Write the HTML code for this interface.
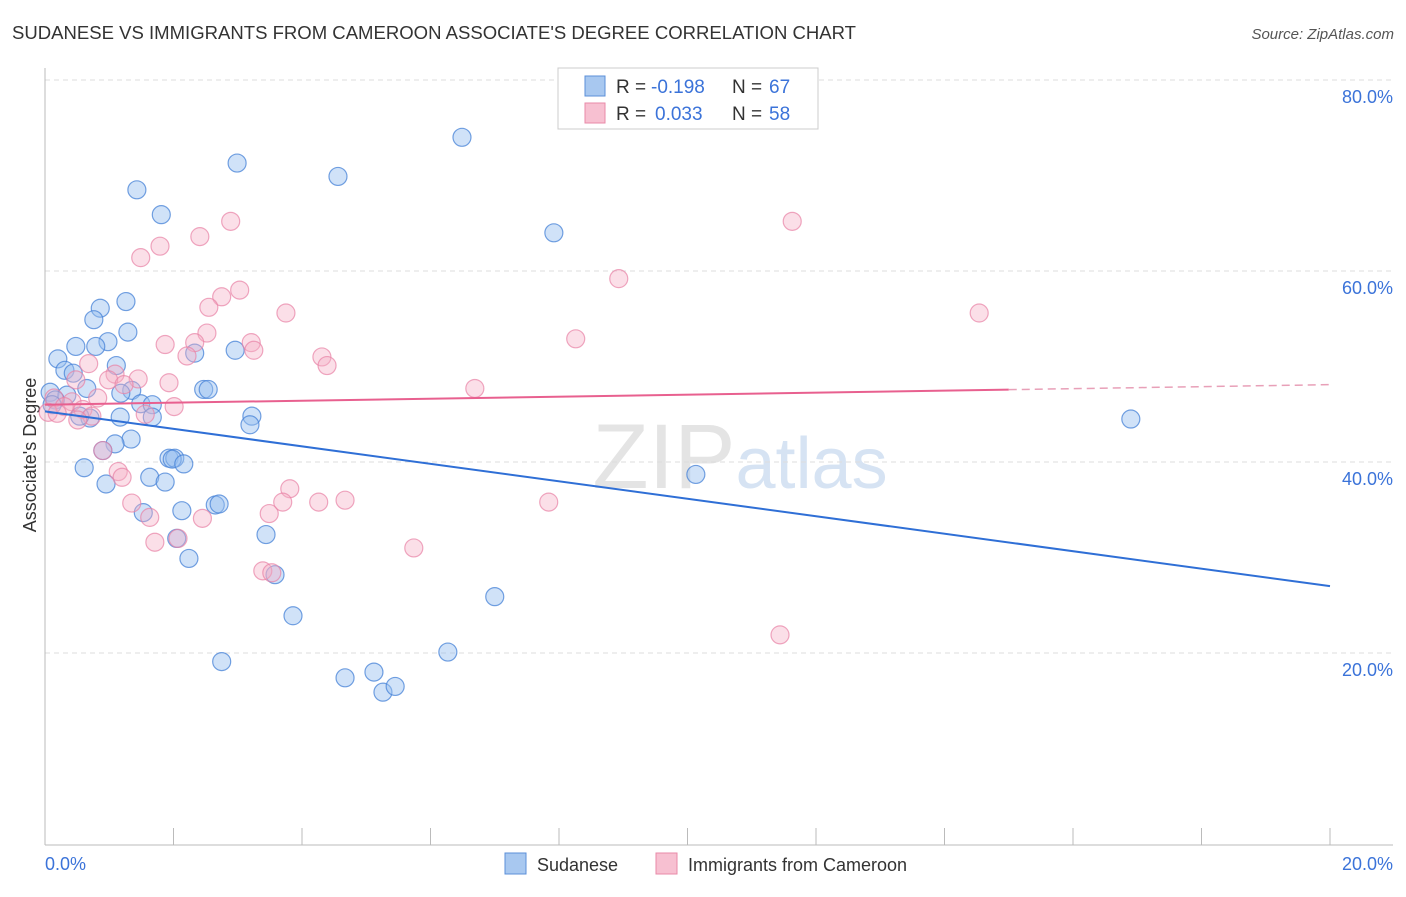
<!DOCTYPE html>
<html><head><meta charset="utf-8"><style>
body{margin:0;background:#fff;font-family:"Liberation Sans",sans-serif}
svg text{font-family:"Liberation Sans",sans-serif}
</style></head><body>
<svg width="1406" height="892">
<text x="12" y="39" font-size="18" fill="#333" textLength="844" lengthAdjust="spacingAndGlyphs">SUDANESE VS IMMIGRANTS FROM CAMEROON ASSOCIATE'S DEGREE CORRELATION CHART</text>
<text x="1394" y="39" font-size="15" fill="#555" font-style="italic" text-anchor="end">Source: ZipAtlas.com</text>
<text x="740" y="488" font-size="92" fill="#e4e4e4" text-anchor="middle" font-family="Liberation Serif">ZIP<tspan fill="#d6e3f3" font-family="Liberation Sans" font-size="72">atlas</tspan></text>
<g id="grid"></g>
<line x1="45" y1="68" x2="45" y2="845" stroke="#bbb"/>
<line x1="45" y1="845" x2="1393" y2="845" stroke="#bbb"/>
<g id="xticks"></g>
<text x="36" y="455" font-size="18" fill="#333" text-anchor="middle" transform="rotate(-90 36 455)">Associate's Degree</text>
<text x="45" y="870" font-size="18" fill="#3b73d9">0.0%</text>
<text x="1393" y="870" font-size="18" fill="#3b73d9" text-anchor="end">20.0%</text>
<g id="pts"></g>
<g id="trends"></g>
<g>
<rect x="558" y="68" width="260" height="61" fill="#fff" stroke="#ccc"/>
<rect x="585" y="76" width="20" height="20" fill="#a8c8f0" stroke="#5b8fd8"/>
<rect x="585" y="103" width="20" height="20" fill="#f7c0d1" stroke="#e88aa8"/>
<text x="616" y="93" font-size="19" fill="#333">R =</text>
<text x="651" y="93" font-size="19" fill="#3b73d9">-0.198</text>
<text x="732" y="93" font-size="19" fill="#333">N =</text>
<text x="769" y="93" font-size="19" fill="#3b73d9">67</text>
<text x="616" y="120" font-size="19" fill="#333">R =</text>
<text x="655" y="120" font-size="19" fill="#3b73d9">0.033</text>
<text x="732" y="120" font-size="19" fill="#333">N =</text>
<text x="769" y="120" font-size="19" fill="#3b73d9">58</text>
</g>
<g>
<rect x="505" y="853" width="21" height="21" fill="#a8c8f0" stroke="#5b8fd8"/>
<text x="537" y="871" font-size="18" fill="#333">Sudanese</text>
<rect x="656" y="853" width="21" height="21" fill="#f7c0d1" stroke="#e88aa8"/>
<text x="688" y="871" font-size="18" fill="#333">Immigrants from Cameroon</text>
</g>
</svg>
<script>
const yTicks=[20,40,60,80];
const yTickLabels=["20.0%","40.0%","60.0%","80.0%"];
const xTicks=[0,2,4,6,8,10,12,14,16,18,20];
const blueX=[1.43,1.81,2.99,4.56,6.49,7.92,0.86,1.26,0.76,1.29,0.98,0.79,0.48,0.20,1.11,0.31,0.44,2.33,2.96,2.47,2.54,0.65,1.35,1.18,0.08,0.34,0.16,0.11,1.49,1.67,1.17,0.70,0.54,1.67,3.22,3.19,1.34,1.09,0.90,1.93,2.02,1.98,2.16,0.61,1.63,1.87,0.95,2.13,1.53,2.65,2.71,2.05,3.44,2.24,3.58,3.86,2.75,4.67,5.12,5.26,5.45,6.27,7.00,10.13,16.90];
const blueY=[68.5,65.9,71.3,69.9,74.0,64.0,56.1,56.8,54.9,53.6,52.6,52.1,52.1,50.8,50.1,49.6,49.3,51.4,51.7,47.6,47.6,47.7,47.5,47.2,47.3,47.0,46.5,46.0,46.1,46.0,44.7,44.6,44.8,44.7,44.8,43.9,42.4,41.9,41.2,40.4,40.4,40.3,39.8,39.4,38.4,37.9,37.7,34.9,34.7,35.5,35.6,32.0,32.4,29.9,28.2,23.9,19.1,17.4,18.0,15.9,16.5,20.1,25.9,38.7,44.5];
const pinkX=[2.89,11.63,2.41,1.79,1.49,8.93,3.03,2.75,2.55,3.75,14.54,2.52,8.26,1.87,2.33,3.21,3.25,2.21,4.31,4.39,0.68,1.09,0.99,1.45,1.23,1.93,0.48,6.69,0.14,0.82,0.42,0.30,2.01,0.05,0.19,0.59,0.73,0.51,1.56,1.14,1.20,1.35,1.63,1.71,2.07,2.45,3.49,3.81,3.70,4.26,4.67,7.84,5.74,3.39,3.53,11.44,0.90];
const pinkY=[65.2,65.2,63.6,62.6,61.4,59.2,58.0,57.3,56.2,55.6,55.6,53.5,52.9,52.3,52.5,52.5,51.7,51.1,51.0,50.1,50.3,49.2,48.6,48.7,48.1,48.3,48.6,47.7,46.7,46.7,46.3,45.8,45.8,45.2,45.1,45.5,44.8,44.4,45.0,39.0,38.4,35.7,34.2,31.6,32.0,34.1,34.6,37.2,35.8,35.8,36.0,35.8,31.0,28.6,28.4,21.9,41.2];
const blueTrend=[45.3,27.0];
const pinkTrend=[46.0,48.1];
const pinkSolidEnd=15.0;
const NS="http://www.w3.org/2000/svg";
const sx=v=>45+v/20*1285;
const sy=v=>844-v/20*191;
function mk(tag,attrs,parent){const e=document.createElementNS(NS,tag);for(const k in attrs)e.setAttribute(k,attrs[k]);parent.appendChild(e);return e;}
const grid=document.getElementById('grid');
yTicks.forEach((t,i)=>{
 const l=mk('line',{x1:45,x2:1393,y1:sy(t),y2:sy(t),stroke:'#ddd','stroke-dasharray':'5,4'},grid);
 
 
 const tx=mk('text',{x:1393,y:sy(t)+23,'font-size':18,fill:'#3b73d9','text-anchor':'end'},grid);
 tx.textContent=yTickLabels[i];
 
 
});
const xt=document.getElementById('xticks');
xTicks.forEach(t=>{
 const l=mk('line',{x1:sx(t),x2:sx(t),y1:828,y2:845,stroke:'#bbb'},xt);
 
 
});
const pts=document.getElementById('pts');
blueX.forEach((x,i)=>{
 const c=mk('circle',{cx:sx(x),cy:sy(blueY[i]),r:9,fill:'rgba(150,190,240,0.45)',stroke:'rgba(70,130,215,0.75)','stroke-width':1.2},pts);
 
 
});
pinkX.forEach((x,i)=>{
 const c=mk('circle',{cx:sx(x),cy:sy(pinkY[i]),r:9,fill:'rgba(245,175,198,0.4)',stroke:'rgba(232,130,165,0.7)','stroke-width':1.2},pts);
 
 
});
const tr=document.getElementById('trends');
const b=mk('line',{x1:sx(0),y1:sy(blueTrend[0]),x2:sx(20),y2:sy(blueTrend[1]),stroke:'#2f6fd6','stroke-width':2},tr);


const pm=pinkTrend[0]+(pinkTrend[1]-pinkTrend[0])*pinkSolidEnd/20;
const p1=mk('line',{x1:sx(0),y1:sy(pinkTrend[0]),x2:sx(pinkSolidEnd),y2:sy(pm),stroke:'#e8608f','stroke-width':2},tr);


const p2=mk('line',{x1:sx(pinkSolidEnd),y1:sy(pm),x2:sx(20),y2:sy(pinkTrend[1]),stroke:'#e8a0b8','stroke-width':1.5,'stroke-dasharray':'8,5'},tr);


</script>
</body></html>
